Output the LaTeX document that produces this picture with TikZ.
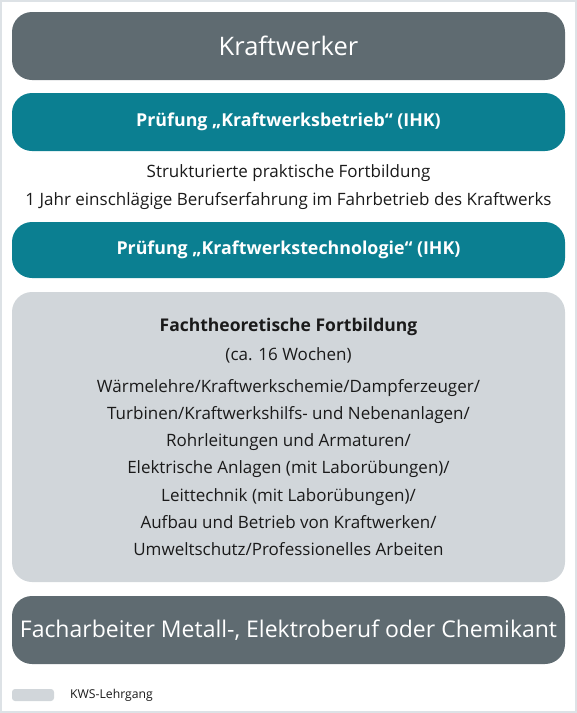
\documentclass[tikz,border=0pt]{standalone}
\usepackage{fontspec}
\setmainfont{Open Sans}
\definecolor{darkgr}{HTML}{5F6B71}
\definecolor{teal}{HTML}{0B7F91}
\definecolor{lightgr}{HTML}{D1D6DA}
\definecolor{framegr}{HTML}{DDE2E6}
\definecolor{txt}{HTML}{1A1A1A}
\tikzset{
  bar/.style={rounded corners=20pt, minimum width=553pt, inner sep=0pt, align=center, text=white},
  darkbar/.style={bar, fill=darkgr, font=\fontsize{23}{27}\selectfont},
  tealbar/.style={bar, fill=teal, font=\bfseries\fontsize{17.8}{21}\selectfont},
  plain/.style={text=txt, font=\fontsize{17}{20}\selectfont, inner sep=0pt},
}
\begin{document}
\begin{tikzpicture}[x=1pt,y=-1pt]
\useasboundingbox (0,0) rectangle (577,713);
\draw[framegr, line width=2pt] (1,1) rectangle (576,712);
\node[darkbar, minimum height=68pt, font=\fontsize{25.5}{30}\selectfont] (kw) at (288.5,46) {Kraftwerker};
\node[tealbar, minimum height=58pt] (p1) at (288.5,122) {Prüfung „Kraftwerksbetrieb“ (IHK)};
\node[plain] (t1) at (288.5,173) {Strukturierte praktische Fortbildung};
\node[plain] (t2) at (288.5,201) {1 Jahr einschlägige Berufserfahrung im Fahrbetrieb des Kraftwerks};
\node[tealbar, minimum height=56pt] (p2) at (288.5,250) {Prüfung „Kraftwerkstechnologie“ (IHK)};
\node[bar, fill=lightgr, minimum height=290pt] (ft) at (288.5,437) {};
\node[plain, font=\bfseries\fontsize{17.5}{20}\selectfont] (f1) at (288.5,327) {Fachtheoretische Fortbildung};
\node[plain] (f2) at (288.5,355) {(ca. 16 Wochen)};
\node[plain, align=center, font=\fontsize{17}{27.2}\selectfont, anchor=north] (f3) at (288.5,379) {Wärmelehre/Kraftwerkschemie/Dampferzeuger/\\Turbinen/Kraftwerkshilfs- und Nebenanlagen/\\Rohrleitungen und Armaturen/\\Elektrische Anlagen (mit Laborübungen)/\\Leittechnik (mit Laborübungen)/\\Aufbau und Betrieb von Kraftwerken/\\Umweltschutz/Professionelles Arbeiten};
\node[darkbar, minimum height=68pt] (fa) at (288.5,630) {Facharbeiter Metall-, Elektroberuf oder Chemikant};
\node[fill=lightgr, rounded corners=3pt, minimum width=42pt, minimum height=12pt, inner sep=0pt] (lg) at (33,695) {};
\node[plain, anchor=west, font=\fontsize{12.2}{14}\selectfont] (lt) at (70,695) {KWS-Lehrgang};
\end{tikzpicture}
\end{document}
